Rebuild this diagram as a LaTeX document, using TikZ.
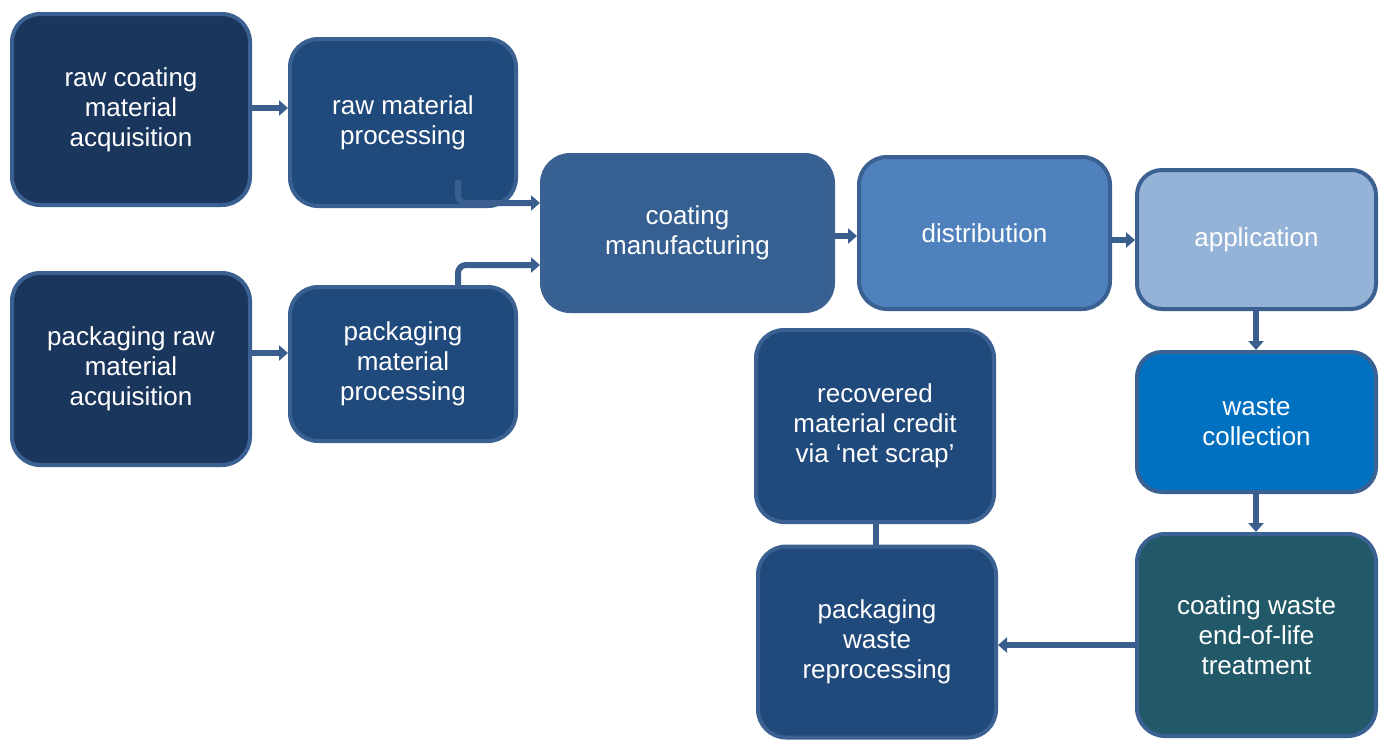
\documentclass[tikz,border=0pt]{standalone}
\usepackage{fontspec}
\setmainfont{Liberation Sans}
\usetikzlibrary{arrows.meta}
\definecolor{bord}{HTML}{3B6192}
\definecolor{navy}{HTML}{1B365D}
\definecolor{mid}{HTML}{214A7C}
\definecolor{cm}{HTML}{376092}
\definecolor{dist}{HTML}{4F81BD}
\definecolor{appc}{HTML}{95B3D7}
\definecolor{wcol}{HTML}{0070C0}
\definecolor{teal}{HTML}{215968}
\definecolor{arrc}{HTML}{3A5F8F}
\tikzset{
  box/.style={draw=bord, line width=4pt, rounded corners=28pt, text=white,
    align=center, inner sep=0pt,
    font=\fontsize{26pt}{30pt}\selectfont},
  arr/.style={draw=arrc, line width=6pt, -{Triangle[width=15pt,length=9pt]}},
  lnk/.style={draw=arrc, line width=6pt}
}
\begin{document}
\begin{tikzpicture}[x=1pt,y=-1pt]
\useasboundingbox (0,0) rectangle (1385,740);
\node[box, fill=navy, minimum width=238pt, minimum height=191pt] (rawacq) at (131,109.5) {raw coating\\material\\acquisition};
\node[box, fill=mid, minimum width=226pt, minimum height=167pt] (rawproc) at (403,122.5) {raw material\\processing};
\node[box, fill=navy, minimum width=238pt, minimum height=192pt] (pkgacq) at (131,369) {packaging raw\\material\\acquisition};
\node[box, fill=mid, minimum width=226pt, minimum height=154pt] (pkgproc) at (403,364) {packaging\\material\\processing};
\node[box, fill=cm, minimum width=291pt, minimum height=156pt] (coatman) at (687.5,233) {coating\\manufacturing};
\node[box, fill=dist, minimum width=251pt, minimum height=152pt] (dist) at (984.5,233) {distribution};
\node[box, fill=appc, minimum width=239pt, minimum height=139pt, rounded corners=25pt] (app) at (1256.5,239.5) {application};
\node[box, fill=wcol, minimum width=239pt, minimum height=140pt, rounded corners=25pt] (wcol) at (1256.5,422) {waste\\collection};
\node[box, fill=teal, minimum width=239pt, minimum height=202pt] (eol) at (1256.5,635) {coating waste\\end-of-life\\treatment};
\node[box, fill=mid, minimum width=238pt, minimum height=192pt] (credit) at (875,426) {recovered\\material credit\\via ‘net scrap’};
\node[box, fill=mid, minimum width=238pt, minimum height=191pt] (reproc) at (877,642) {packaging\\waste\\reprocessing};

\draw[arr] (rawacq.east |- 0,108) -- (rawproc.west |- 0,108);
\draw[arr] (pkgacq.east |- 0,353) -- (pkgproc.west |- 0,353);
\coordinate (c1) at (458,180);
\coordinate (c2) at (458,287);
\draw[arr, rounded corners=8pt] (c1) |- (coatman.west |- 0,203);
\draw[arr, rounded corners=8pt] (c2) |- (coatman.west |- 0,265);
\draw[arr] (coatman.east |- 0,236) -- (dist.west |- 0,236);
\draw[arr] (dist.east |- 0,240) -- (app.west |- 0,240);
\draw[arr] (app.south -| 1256,0) -- (wcol.north -| 1256,0);
\draw[arr] (wcol.south -| 1256,0) -- (eol.north -| 1256,0);
\draw[arr] (eol.west |- 0,645) -- (reproc.east |- 0,645);
\draw[lnk] (credit.south -| 876,0) -- (reproc.north -| 876,0);
\end{tikzpicture}
\end{document}
